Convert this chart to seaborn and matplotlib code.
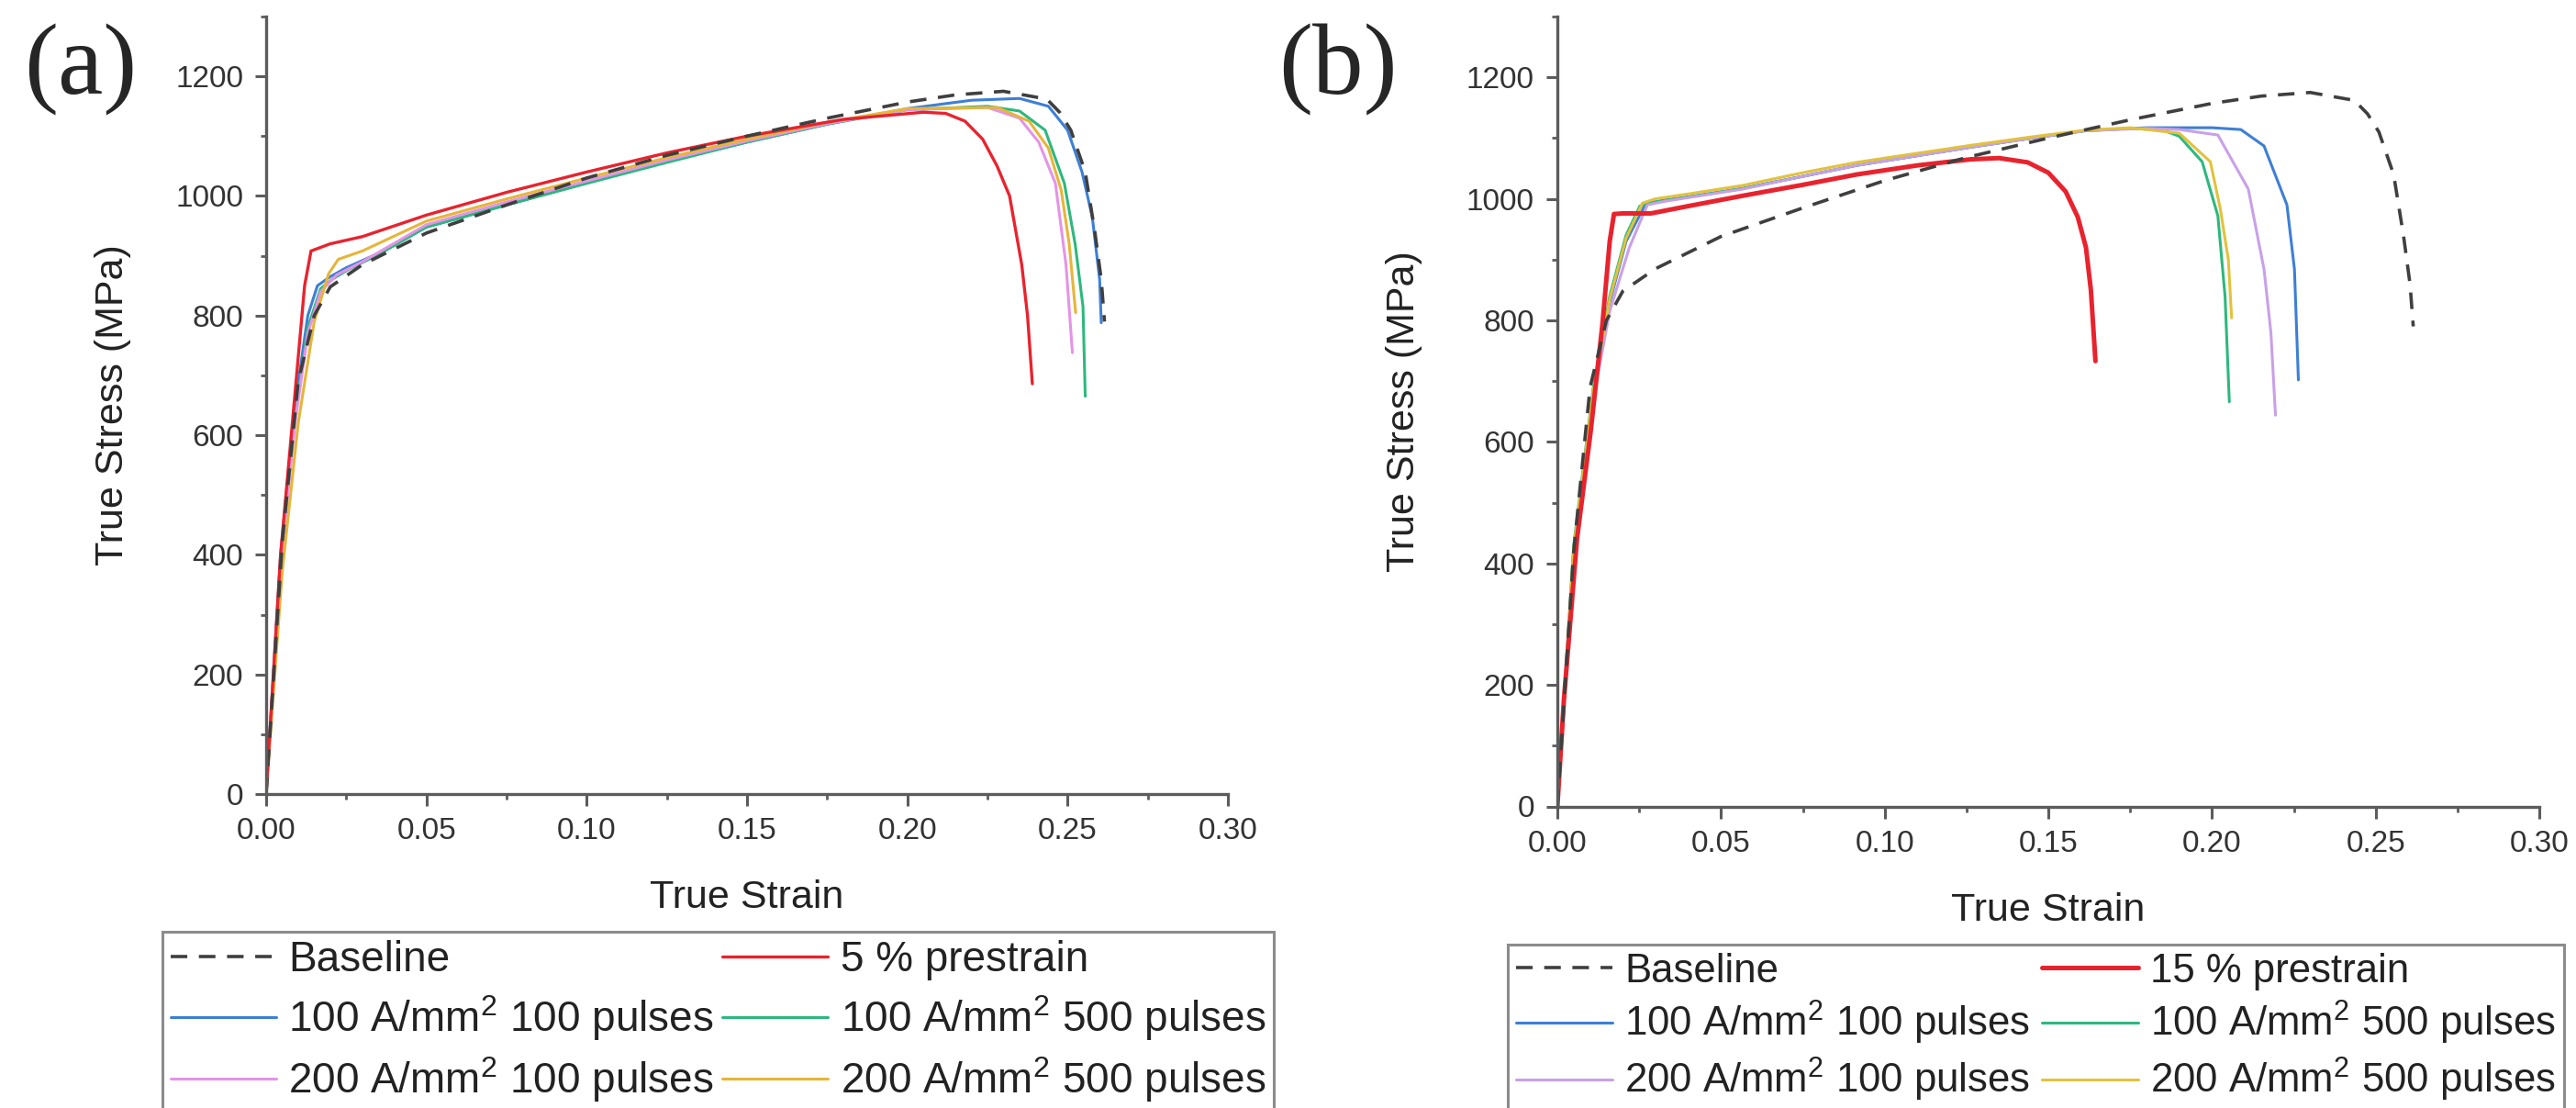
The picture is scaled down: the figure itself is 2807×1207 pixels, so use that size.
import pandas as pd
import matplotlib.pyplot as plt
import seaborn as sns
from matplotlib.ticker import MultipleLocator, FormatStrFormatter

sns.set_style('ticks')
plt.rcParams['font.family'] = ['Liberation Sans', 'DejaVu Sans']

# ---- data (true strain, true stress in MPa) ----
base_strain = [0, 0.005, 0.01, 0.015, 0.02, 0.03, 0.05, 0.075, 0.10, 0.125, 0.15, 0.175,
               0.20, 0.215, 0.23, 0.2435, 0.2475, 0.251, 0.2555, 0.2585, 0.2605, 0.2615]
base_stress = [0, 420, 690, 800, 848, 885, 938, 985, 1030, 1068, 1100, 1130,
               1157, 1169, 1175, 1162, 1140, 1110, 1040, 940, 860, 790]

# panel (a)
a_red_strain = [0, 0.0045, 0.0085, 0.012, 0.014, 0.02, 0.03, 0.05, 0.075, 0.10, 0.125, 0.15,
                0.18, 0.205, 0.212, 0.218, 0.2235, 0.228, 0.2319, 0.2357, 0.2375, 0.239]
a_red_stress = [0, 400, 640, 850, 908, 920, 932, 968, 1006, 1040, 1072, 1100,
                1128, 1140, 1138, 1125, 1095, 1050, 1000, 885, 800, 686]

a_blue_strain = [0, 0.0045, 0.009, 0.013, 0.016, 0.02, 0.025, 0.035, 0.05, 0.075, 0.10, 0.125,
                 0.15, 0.175, 0.20, 0.22, 0.235, 0.244, 0.25, 0.2545, 0.2577, 0.26, 0.2605]
a_blue_stress = [0, 400, 650, 800, 850, 865, 880, 904, 948, 985, 1022, 1058,
                 1090, 1120, 1146, 1160, 1163, 1150, 1110, 1040, 965, 860, 788]

a_green_strain = [0, 0.0045, 0.009, 0.013, 0.017, 0.021, 0.026, 0.035, 0.05, 0.075, 0.10, 0.125,
                  0.15, 0.175, 0.20, 0.225, 0.235, 0.243, 0.249, 0.2524, 0.2548, 0.2555]
a_green_stress = [0, 390, 630, 780, 845, 862, 878, 902, 948, 985, 1021, 1056,
                  1090, 1120, 1144, 1150, 1142, 1110, 1021, 918, 815, 665]

a_pink_strain = [0, 0.0045, 0.009, 0.013, 0.017, 0.022, 0.03, 0.05, 0.075, 0.10, 0.125, 0.15,
                 0.175, 0.20, 0.225, 0.235, 0.241, 0.2462, 0.2495, 0.2515]
a_pink_stress = [0, 380, 620, 770, 840, 868, 890, 952, 990, 1025, 1060, 1092,
                 1121, 1144, 1148, 1130, 1090, 1021, 885, 738]

a_yellow_strain = [0, 0.005, 0.01, 0.015, 0.0195, 0.0225, 0.03, 0.05, 0.075, 0.10, 0.125, 0.15,
                   0.175, 0.20, 0.228, 0.238, 0.244, 0.248, 0.2505, 0.2525]
a_yellow_stress = [0, 370, 620, 790, 870, 894, 908, 958, 995, 1030, 1064, 1095,
                   1123, 1146, 1148, 1125, 1080, 1010, 920, 805]

# panel (b)
b_red_strain = [0, 0.002, 0.006, 0.0102, 0.0138, 0.016, 0.0173, 0.02, 0.0286, 0.04, 0.0566,
                0.075, 0.0914, 0.11, 0.1263, 0.135, 0.1437, 0.15, 0.1553, 0.159, 0.1615, 0.163, 0.1644]
b_red_stress = [0, 175, 440, 618, 795, 930, 975, 976, 976, 988, 1005,
                1023, 1040, 1055, 1065, 1067, 1060, 1043, 1012, 970, 920, 850, 733]

b_blue_strain = [0, 0.005, 0.011, 0.016, 0.021, 0.027, 0.032, 0.04, 0.0566, 0.075, 0.0914, 0.11,
                 0.1263, 0.145, 0.1612, 0.18, 0.2, 0.2088, 0.2159, 0.2229, 0.2252, 0.2264]
b_blue_stress = [0, 420, 680, 830, 930, 992, 997, 1003, 1017, 1037, 1055, 1071,
                 1085, 1100, 1112, 1117, 1117, 1114, 1087, 990, 884, 702]

b_green_strain = [0, 0.005, 0.011, 0.016, 0.021, 0.0252, 0.03, 0.04, 0.0566, 0.075, 0.0914, 0.11,
                  0.1263, 0.145, 0.1612, 0.175, 0.185, 0.19, 0.197, 0.2018, 0.204, 0.2053]
b_green_stress = [0, 430, 690, 840, 940, 988, 995, 1003, 1017, 1037, 1055, 1071,
                  1085, 1100, 1112, 1116, 1113, 1103, 1061, 972, 839, 666]

b_violet_strain = [0, 0.005, 0.011, 0.016, 0.022, 0.0275, 0.033, 0.04, 0.0566, 0.075, 0.0914, 0.11,
                   0.1263, 0.145, 0.1612, 0.18, 0.19, 0.2018, 0.2111, 0.2159, 0.218, 0.2194]
b_violet_stress = [0, 410, 670, 815, 920, 990, 996, 1002, 1016, 1037, 1055, 1071,
                   1085, 1100, 1112, 1116, 1114, 1105, 1016, 884, 780, 644]

b_yellow_strain = [0, 0.005, 0.011, 0.016, 0.021, 0.026, 0.03, 0.04, 0.0566, 0.075, 0.0914, 0.11,
                   0.1263, 0.145, 0.1612, 0.175, 0.19, 0.1995, 0.2025, 0.205, 0.206]
b_yellow_stress = [0, 425, 685, 835, 935, 993, 1000, 1008, 1022, 1043, 1060, 1075,
                   1088, 1102, 1113, 1117, 1108, 1061, 985, 900, 804]

lbl_base = 'Baseline'
lbl_11 = '100 A/mm$^2$ 100 pulses'
lbl_15 = '100 A/mm$^2$ 500 pulses'
lbl_21 = '200 A/mm$^2$ 100 pulses'
lbl_25 = '200 A/mm$^2$ 500 pulses'

colors = {'base': '#3f3f3f', 'red': '#e8232e', 'blue': '#3d7fd6', 'green': '#2db87d',
          'pink': '#e394e6', 'yellow': '#e6b53a', 'violet': '#c9a0e8', 'yellow_b': '#e2c23c'}

plt.rcParams['mathtext.fontset'] = 'custom'
plt.rcParams['mathtext.rm'] = 'Liberation Sans'
plt.rcParams['mathtext.it'] = 'Liberation Sans'

fig = plt.figure(figsize=(28.07, 12.07), dpi=100)
ax_a = fig.add_axes([290 / 2807, 1 - 865 / 1207, 1048 / 2807, 847 / 1207])
ax_b = fig.add_axes([1697 / 2807, 1 - 878.5 / 1207, 1070 / 2807, 860.5 / 1207])

panel_a = [
    ('blue', lbl_11, a_blue_strain, a_blue_stress, colors['blue'], 2.2, '-'),
    ('green', lbl_15, a_green_strain, a_green_stress, colors['green'], 2.2, '-'),
    ('pink', lbl_21, a_pink_strain, a_pink_stress, colors['pink'], 2.2, '-'),
    ('yellow', lbl_25, a_yellow_strain, a_yellow_stress, colors['yellow'], 2.2, '-'),
    ('red', '5 % prestrain', a_red_strain, a_red_stress, colors['red'], 2.4, '-'),
    ('base', lbl_base, base_strain, base_stress, colors['base'], 2.6, (0, (5, 3.5))),
]
panel_b = [
    ('blue', lbl_11, b_blue_strain, b_blue_stress, colors['blue'], 2.2, '-'),
    ('green', lbl_15, b_green_strain, b_green_stress, colors['green'], 2.2, '-'),
    ('pink', lbl_21, b_violet_strain, b_violet_stress, colors['violet'], 2.2, '-'),
    ('yellow', lbl_25, b_yellow_strain, b_yellow_stress, colors['yellow_b'], 2.2, '-'),
    ('red', '15 % prestrain', b_red_strain, b_red_stress, colors['red'], 3.6, '-'),
    ('base', lbl_base, base_strain, base_stress, colors['base'], 2.6, (0, (5, 3.5))),
]

legend_order = ['base', 'blue', 'pink', 'red', 'green', 'yellow']

for ax, curves, anchor, fs, hl, htp, cs, ls_sp in [
        (ax_a, panel_a, (177 / 2807, 1 - 1015 / 1207), 33, 2.5, 0.3, 0.2, 0.3),
        (ax_b, panel_b, (1643 / 2807, 1 - 1029 / 1207), 31.5, 2.4, 0.3, 0.3, 0.22)]:
    handles = {}
    labels = {}
    for key, lab, xs, ys, col, lw, ls in curves:
        df = pd.DataFrame({'strain': xs, 'stress': ys})
        sns.lineplot(data=df, x='strain', y='stress', sort=False, estimator=None,
                     color=col, linewidth=lw, linestyle=ls, ax=ax)
        handles[key] = ax.get_lines()[-1]
        labels[key] = lab

    ax.set_xlim(0, 0.30)
    ax.set_ylim(0, 1300)
    ax.xaxis.set_major_locator(MultipleLocator(0.05))
    ax.xaxis.set_minor_locator(MultipleLocator(0.025))
    ax.xaxis.set_major_formatter(FormatStrFormatter('%.2f'))
    ax.yaxis.set_major_locator(MultipleLocator(200))
    ax.yaxis.set_minor_locator(MultipleLocator(100))
    for side in ['top', 'right']:
        ax.spines[side].set_visible(False)
    for side in ['left', 'bottom']:
        ax.spines[side].set_color('#5c5c5c')
        ax.spines[side].set_linewidth(2.4)
    ax.tick_params(which='major', direction='out', length=9, width=2.2, color='#5c5c5c',
                   labelsize=24, labelcolor='#333333', pad=9)
    ax.tick_params(which='minor', direction='out', length=4.5, width=2.0, color='#5c5c5c')
    ax.set_xlabel('True Strain', fontsize=31, color='#222222')
    ax.set_ylabel('True Stress (MPa)', fontsize=31, color='#222222')
    ax.set_facecolor('white')

    leg = ax.legend([handles[k] for k in legend_order], [labels[k] for k in legend_order],
                    ncol=2, loc='upper left', bbox_to_anchor=anchor,
                    bbox_transform=fig.transFigure, fontsize=fs, frameon=True,
                    fancybox=False, edgecolor='#8c8c8c', framealpha=1,
                    handlelength=hl, handletextpad=htp, columnspacing=cs,
                    labelspacing=ls_sp, borderpad=0.2, borderaxespad=0)
    leg.get_frame().set_linewidth(2.2)
    for t in leg.get_texts():
        t.set_color('#222222')

ax_a.xaxis.set_label_coords(0.5, -0.1098)
ax_b.xaxis.set_label_coords(0.5, -0.1087)
ax_a.yaxis.set_label_coords(-0.1403, 0.5)
ax_b.yaxis.set_label_coords(-0.1374, 0.5)

fig.text(88 / 2807, 1 - 76 / 1207, '(a)', fontsize=80, family='Liberation Serif',
         ha='center', va='center')
fig.text(1458 / 2807, 1 - 76 / 1207, '(b)', fontsize=80, family='Liberation Serif',
         ha='center', va='center')

fig.savefig('out.png', dpi=100, facecolor='white')
